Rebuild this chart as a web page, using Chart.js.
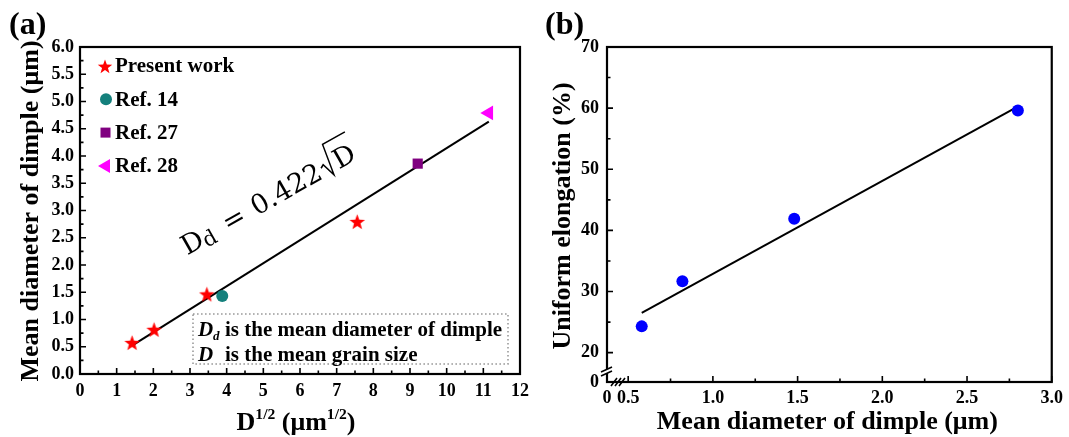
<!DOCTYPE html>
<html>
<head>
<meta charset="utf-8">
<script src="https://cdn.jsdelivr.net/npm/chart.js@4/dist/chart.umd.min.js"></script>
<style>
  html, body { margin: 0; padding: 0; background: #fff; }
  #wrap { position: relative; width: 1069px; height: 437px; overflow: hidden; }
  #wrap canvas { position: absolute; top: 0; }
</style>
</head>
<body>
<div id="wrap">
  <canvas id="ca" width="540" height="437" style="left:0"></canvas>
  <canvas id="cb" width="529" height="437" style="left:540px"></canvas>
</div>
<script>
// ---------- (a) mean dimple diameter vs D^(1/2) ----------
const presentX = [1.42, 2.02, 3.46, 7.56];
const presentY = [0.58, 0.82, 1.47, 2.80];
const ref14X = [3.88];
const ref14Y = [1.43];
const ref27X = [9.21];
const ref27Y = [3.86];
const ref28X = [11.15];
const ref28Y = [4.79];
const fitAX = [1.42, 11.15];
const fitAY = [0.52, 4.63];
const ticksAX = [0, 1, 2, 3, 4, 5, 6, 7, 8, 9, 10, 11, 12];
const ticksAY = [0, 0.5, 1.0, 1.5, 2.0, 2.5, 3.0, 3.5, 4.0, 4.5, 5.0, 5.5, 6.0];
const legendA = ['Present work', 'Ref. 14', 'Ref. 27', 'Ref. 28'];

// ---------- (b) uniform elongation vs mean dimple diameter ----------
const dimpleB = [0.58, 0.82, 1.48, 2.80];
const elongB = [24.3, 31.7, 41.9, 59.6];
const fitBX = [0.58, 2.81];
const fitBY = [26.5, 60.4];
const ticksBX = [0.375, 0.5, 1.0, 1.5, 2.0, 2.5, 3.0];
const tickLabelsBX = ['0', '0.5', '1.0', '1.5', '2.0', '2.5', '3.0'];
const ticksBY = [15.2, 20, 30, 40, 50, 60, 70];
const tickLabelsBY = ['0', '20', '30', '40', '50', '60', '70'];

const SERIF = '"Liberation Serif", "Times New Roman", serif';
const fnt = (size, weight = 'bold', style = 'normal') => `${style} ${weight} ${size}px ${SERIF}`;
const pts = (xs, ys) => xs.map((x, i) => ({ x, y: ys[i] }));

// filled five-pointed star used as a point marker
function makeStar(outer, inner, color) {
  const s = Math.ceil(outer * 2 + 2);
  const c = document.createElement('canvas');
  c.width = s; c.height = s;
  const g = c.getContext('2d');
  g.fillStyle = color;
  g.beginPath();
  for (let i = 0; i < 10; i++) {
    const r = i % 2 ? inner : outer;
    const a = -Math.PI / 2 + i * Math.PI / 5;
    const px = s / 2 + r * Math.cos(a), py = s / 2 + 1 + r * Math.sin(a);
    if (i) g.lineTo(px, py); else g.moveTo(px, py);
  }
  g.closePath();
  g.fill();
  return c;
}
const starImg = makeStar(8.2, 3.4, '#ff0000');
const starSmall = makeStar(7.6, 3.1, '#ff0000');

function midpoints(arr) {
  const out = [];
  for (let i = 0; i < arr.length - 1; i++) out.push((arr[i] + arr[i + 1]) / 2);
  return out;
}

// frame with inward ticks on the bottom and left axes
function framePlugin(xMajor, xMinor, yMajor, yMinor) {
  return {
    id: 'frame',
    afterDraw(chart) {
      const ctx = chart.ctx, a = chart.chartArea;
      const xs = chart.scales.x, ys = chart.scales.y;
      ctx.save();
      ctx.strokeStyle = '#000';
      ctx.lineWidth = 1.6;
      ctx.beginPath();
      xMajor.forEach(v => { const p = xs.getPixelForValue(v); ctx.moveTo(p, a.bottom); ctx.lineTo(p, a.bottom - 6); });
      xMinor.forEach(v => { const p = xs.getPixelForValue(v); ctx.moveTo(p, a.bottom); ctx.lineTo(p, a.bottom - 3.5); });
      yMajor.forEach(v => { const p = ys.getPixelForValue(v); ctx.moveTo(a.left, p); ctx.lineTo(a.left + 6, p); });
      yMinor.forEach(v => { const p = ys.getPixelForValue(v); ctx.moveTo(a.left, p); ctx.lineTo(a.left + 3.5, p); });
      ctx.stroke();
      ctx.lineWidth = 2.2;
      ctx.strokeRect(a.left, a.top, a.right - a.left, a.bottom - a.top);
      ctx.restore();
    }
  };
}

// text pieces with optional superscripts, centred on cx
function drawRich(ctx, pieces, cx, baseY, size) {
  let total = 0;
  const meas = pieces.map(p => {
    ctx.font = fnt(p.sup ? size * 0.6 : size);
    const w = ctx.measureText(p.t).width;
    total += w;
    return w;
  });
  let x = cx - total / 2;
  ctx.textAlign = 'left';
  ctx.textBaseline = 'alphabetic';
  pieces.forEach((p, i) => {
    ctx.font = fnt(p.sup ? size * 0.6 : size);
    ctx.fillText(p.t, x, p.sup ? baseY - size * 0.42 : baseY);
    x += meas[i];
  });
}

// ---------- chart (a) decorations ----------
const decorA = {
  id: 'decorA',
  afterDraw(chart) {
    const ctx = chart.ctx;
    ctx.save();
    ctx.fillStyle = '#000';

    // panel tag
    ctx.font = fnt(32);
    ctx.textAlign = 'left';
    ctx.textBaseline = 'alphabetic';
    ctx.fillText('(a)', 9, 34);

    // axis titles
    ctx.save();
    ctx.translate(31, 211);
    ctx.rotate(-Math.PI / 2);
    ctx.font = fnt(26);
    ctx.textAlign = 'center';
    ctx.textBaseline = 'middle';
    ctx.fillText('Mean diameter of dimple (\u03bcm)', 0, 0);
    ctx.restore();
    drawRich(ctx, [{ t: 'D' }, { t: '1/2', sup: true }, { t: ' (\u03bcm' }, { t: '1/2', sup: true }, { t: ')' }], 296, 430, 26);

    // legend
    const lx = 105, ly0 = 66, dy = 33.3;
    const m = [
      (y) => ctx.drawImage(starSmall, lx - starSmall.width / 2, y - starSmall.height / 2),
      (y) => { ctx.fillStyle = '#14807c'; ctx.beginPath(); ctx.arc(lx + 1, y, 6, 0, Math.PI * 2); ctx.fill(); },
      (y) => { ctx.fillStyle = '#800080'; ctx.fillRect(lx - 4.5, y - 5, 10, 10); },
      (y) => { ctx.fillStyle = '#ff00ff'; ctx.beginPath(); ctx.moveTo(lx - 7, y); ctx.lineTo(lx + 5, y - 7); ctx.lineTo(lx + 5, y + 7); ctx.closePath(); ctx.fill(); }
    ];
    legendA.forEach((t, i) => {
      const y = ly0 + i * dy;
      m[i](y);
      ctx.fillStyle = '#000';
      ctx.font = fnt(21);
      ctx.textAlign = 'left';
      ctx.textBaseline = 'middle';
      ctx.fillText(t, 115, y + 1);
    });

    // fitted relation, written along the line
    ctx.save();
    ctx.translate(257, 216);
    ctx.rotate(-29.5 * Math.PI / 180);
    ctx.fillStyle = '#000';
    ctx.textBaseline = 'alphabetic';
    ctx.textAlign = 'left';
    ctx.font = '27px "DejaVu Serif", serif';
    ctx.fillText('0.422', 0, 0);
    const numW = ctx.measureText('0.422').width;
    ctx.fillText('=', -33, 0);
    ctx.fillText('D', -80, 0);
    ctx.font = '21px "DejaVu Serif", serif';
    ctx.fillText('d', -59, 3);
    ctx.font = '27px "DejaVu Serif", serif';
    const r0 = numW + 2;
    ctx.fillText('D', r0 + 15, 0);
    const dW = ctx.measureText('D').width;
    ctx.lineWidth = 1.5;
    ctx.strokeStyle = '#000';
    ctx.beginPath();
    ctx.moveTo(r0, -10);
    ctx.lineTo(r0 + 3.5, -12);
    ctx.lineTo(r0 + 8, 2);
    ctx.lineTo(r0 + 13, -30);
    ctx.lineTo(r0 + 15 + dW + 2, -30);
    ctx.stroke();
    ctx.restore();

    // definitions box
    ctx.strokeStyle = '#9a9a9a';
    ctx.lineWidth = 1.6;
    ctx.setLineDash([1.6, 2.4]);
    ctx.strokeRect(193, 314, 315, 50);
    ctx.setLineDash([]);
    ctx.fillStyle = '#000';
    ctx.textBaseline = 'alphabetic';
    ctx.textAlign = 'left';
    ctx.font = fnt(21, 'bold', 'italic');
    ctx.fillText('D', 198, 336);
    ctx.font = fnt(13, 'bold', 'italic');
    ctx.fillText('d', 213, 340);
    ctx.font = fnt(21);
    ctx.fillText('is the mean diameter of dimple', 225, 336);
    ctx.font = fnt(21, 'bold', 'italic');
    ctx.fillText('D', 198, 361);
    ctx.font = fnt(21);
    ctx.fillText('is the mean grain size', 225, 361);

    ctx.restore();
  }
};

// ---------- chart (b) decorations ----------
const decorB = {
  id: 'decorB',
  afterDraw(chart) {
    const ctx = chart.ctx, a = chart.chartArea;
    ctx.save();
    ctx.fillStyle = '#000';
    ctx.font = fnt(32);
    ctx.textAlign = 'left';
    ctx.textBaseline = 'alphabetic';
    ctx.fillText('(b)', 5, 34);

    ctx.save();
    ctx.translate(23, 216);
    ctx.rotate(-Math.PI / 2);
    ctx.font = fnt(26);
    ctx.textAlign = 'center';
    ctx.textBaseline = 'middle';
    ctx.fillText('Uniform elongation (%)', 0, 0);
    ctx.restore();
    drawRich(ctx, [{ t: 'Mean diameter of dimple (\u03bcm)' }], (a.left + a.right) / 2 - 2, 429, 26);

    // axis breaks
    ctx.strokeStyle = '#000';
    ctx.lineWidth = 1.6;
    const bx = a.left, by = a.bottom - 11;
    ctx.fillStyle = '#fff';
    ctx.fillRect(bx - 2, by - 2, 4, 4);
    ctx.beginPath();
    ctx.moveTo(bx - 6, by + 1); ctx.lineTo(bx + 5, by - 4);
    ctx.moveTo(bx - 6, by + 5); ctx.lineTo(bx + 5, by);
    const cx = a.left + 11, cy = a.bottom;
    ctx.moveTo(cx - 7, cy + 4); ctx.lineTo(cx - 1, cy - 4);
    ctx.moveTo(cx - 3, cy + 4); ctx.lineTo(cx + 3, cy - 4);
    ctx.moveTo(cx + 1, cy + 4); ctx.lineTo(cx + 7, cy - 4);
    ctx.stroke();
    ctx.restore();
  }
};

const tickFont = { family: SERIF, size: 18, weight: 'bold' };
const noGrid = { display: false, drawTicks: false };

new Chart(document.getElementById('ca'), {
  type: 'scatter',
  data: {
    datasets: [
      { label: legendA[0], data: pts(presentX, presentY), pointStyle: starImg, pointRadius: 8 },
      { label: legendA[1], data: pts(ref14X, ref14Y), pointStyle: 'circle', pointRadius: 6, backgroundColor: '#14807c', borderWidth: 0 },
      { label: legendA[2], data: pts(ref27X, ref27Y), pointStyle: 'rect', pointRadius: 7.2, backgroundColor: '#800080', borderWidth: 0 },
      { label: legendA[3], data: pts(ref28X, ref28Y), pointStyle: 'triangle', pointRotation: -90, pointRadius: 8.5, backgroundColor: '#ff00ff', borderWidth: 0 },
      { label: 'fit', data: pts(fitAX, fitAY), showLine: true, pointRadius: 0, borderColor: '#000', borderWidth: 2, fill: false }
    ]
  },
  options: {
    responsive: false,
    animation: false,
    events: [],
    layout: { padding: { top: 47, right: 20, left: 0, bottom: 0 } },
    plugins: { legend: { display: false }, tooltip: { enabled: false } },
    scales: {
      x: {
        type: 'linear', min: 0, max: 12,
        afterBuildTicks: s => { s.ticks = ticksAX.map(v => ({ value: v })); },
        afterFit: s => { s.height = 63; },
        grid: noGrid, border: { display: false },
        ticks: { font: tickFont, color: '#000', padding: 7, autoSkip: false, maxRotation: 0, callback: v => String(v) }
      },
      y: {
        type: 'linear', min: 0, max: 6,
        afterBuildTicks: s => { s.ticks = ticksAY.map(v => ({ value: v })); },
        afterFit: s => { s.width = 80; },
        grid: noGrid, border: { display: false },
        ticks: { font: tickFont, color: '#000', padding: 6, autoSkip: false, callback: v => v.toFixed(1) }
      }
    }
  },
  plugins: [framePlugin(ticksAX, midpoints(ticksAX), ticksAY, midpoints(ticksAY)), decorA]
});

const bxMajor = ticksBX.slice(1);
const byMajor = ticksBY.slice(1);
new Chart(document.getElementById('cb'), {
  type: 'scatter',
  data: {
    datasets: [
      { label: 'Uniform elongation', data: pts(dimpleB, elongB), pointStyle: 'circle', pointRadius: 6, backgroundColor: '#0000ff', borderWidth: 0 },
      { label: 'fit', data: pts(fitBX, fitBY), showLine: true, pointRadius: 0, borderColor: '#000', borderWidth: 2, fill: false }
    ]
  },
  options: {
    responsive: false,
    animation: false,
    events: [],
    layout: { padding: { top: 47, right: 12, left: 0, bottom: 0 } },
    plugins: { legend: { display: false }, tooltip: { enabled: false } },
    scales: {
      x: {
        type: 'linear', min: ticksBX[0], max: 3.0,
        afterBuildTicks: s => { s.ticks = ticksBX.map(v => ({ value: v })); },
        afterFit: s => { s.height = 55; },
        grid: noGrid, border: { display: false },
        ticks: { font: tickFont, color: '#000', padding: 6, autoSkip: false, maxRotation: 0, callback: (v, i) => tickLabelsBX[i] }
      },
      y: {
        type: 'linear', min: ticksBY[0], max: 70,
        afterBuildTicks: s => { s.ticks = ticksBY.map(v => ({ value: v })); },
        afterFit: s => { s.width = 67; },
        grid: noGrid, border: { display: false },
        ticks: { font: tickFont, color: '#000', padding: 8, autoSkip: false, callback: (v, i) => tickLabelsBY[i] }
      }
    }
  },
  plugins: [framePlugin(bxMajor, midpoints(bxMajor), byMajor, midpoints(byMajor)), decorB]
});
</script>
</body>
</html>
